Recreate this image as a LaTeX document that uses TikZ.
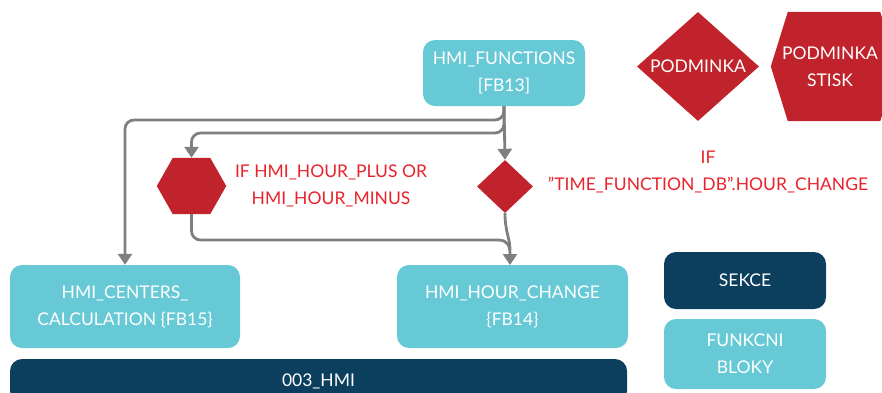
\documentclass[tikz,border=0pt]{standalone}
\usepackage{fontspec}
\setmainfont{Lato}
\usetikzlibrary{arrows.meta,shapes.geometric}
\definecolor{teal}{HTML}{66C9D5}
\definecolor{navy}{HTML}{0C3F5E}
\definecolor{dred}{HTML}{C0232C}
\definecolor{tred}{HTML}{E8232B}
\definecolor{lgray}{HTML}{7F7F7F}
\tikzset{
  fbbox/.style={fill=teal, rounded corners=12pt, text=white, align=center, inner sep=0pt, font=\fontsize{17.5}{27}\selectfont},
  secbox/.style={fill=navy, rounded corners=12pt, text=white, align=center, inner sep=0pt, font=\fontsize{17.5}{27}\selectfont},
  cond/.style={text=tred, align=center, font=\fontsize{17.5}{27}\selectfont},
  wtxt/.style={text=white, align=center, font=\fontsize{17.5}{27}\selectfont},
  conn/.style={draw=lgray, line width=2.8pt, rounded corners=9pt, -{Triangle[length=11pt,width=14pt]}},
  connl/.style={draw=lgray, line width=2.8pt, rounded corners=9pt},
}
\begin{document}
\begin{tikzpicture}[x=1pt,y=-1pt]
\useasboundingbox (0,0) rectangle (882,392);
% boxes
\node[fbbox, minimum width=162pt, minimum height=66pt] (fn) at (504,73) {HMI\_FUNCTIONS\\{[}FB13{]}};
\node[fbbox, minimum width=230pt, minimum height=83pt] (cc) at (125,306.5) {HMI\_CENTERS\_\\CALCULATION {\{}FB15{\}}};
\node[fbbox, minimum width=231pt, minimum height=83pt] (hc) at (512.5,306.5) {HMI\_HOUR\_CHANGE\\{\{}FB14{\}}};
\node[secbox, minimum width=162pt, minimum height=57pt] (sk) at (745,280.5) {SEKCE};
\node[fbbox, minimum width=162pt, minimum height=70pt] (fb) at (745,354) {FUNKCNI\\BLOKY};
\node[secbox, minimum width=617pt, minimum height=44pt] (hmi) at (318.5,381) {003\_HMI};
% legend shapes
\node[diamond, fill=dred, minimum width=122pt, minimum height=109pt, inner sep=0pt] (pd) at (698,66.5) {};
\node[wtxt] at (pd.center) {PODMINKA};
\node[minimum width=126pt, minimum height=109pt, inner sep=0pt] (ps) at (834,66.5) {};
\fill[dred] (ps.west) -- ([xshift=17pt]ps.north west) -- ([xshift=-17pt]ps.north east) -- (ps.east) -- ([xshift=-17pt]ps.south east) -- ([xshift=17pt]ps.south west) -- cycle;
\node[wtxt] at (830,66.5) {PODMINKA\\STISK};
% condition shapes
\node[minimum width=69pt, minimum height=56pt, inner sep=0pt] (hx) at (191.5,186) {};
\fill[dred] (hx.west) -- ([xshift=16pt]hx.north west) -- ([xshift=-16pt]hx.north east) -- (hx.east) -- ([xshift=-16pt]hx.south east) -- ([xshift=16pt]hx.south west) -- cycle;
\node[diamond, fill=dred, minimum width=56pt, minimum height=53pt, inner sep=0pt] (dm) at (505,186.5) {};
\node[cond] (t1) at (331,185.5) {IF HMI\_HOUR\_PLUS OR\\HMI\_HOUR\_MINUS};
\node[cond] (t2) at (708,172) {IF\\\symbol{34}TIME\_FUNCTION\_DB\symbol{34}.HOUR\_CHANGE};
% connectors
\coordinate (b1) at (504,120);
\coordinate (b2) at (504,133);
\draw[conn] (fn.south) -- (dm.north);
\draw[conn] (fn.south) -- (b1) -- (125,120) -- (cc.north);
\draw[conn] (fn.south) -- (b2) -- (191.5,133) -- (hx.north);
\draw[connl] (hx.south) -- (191.5,240) -- (498,240);
\draw[conn, rounded corners=0pt] (498,240) .. controls (508,240) and (510,246) .. (510,265);
\draw[connl] (dm.south) .. controls (505,232) and (510,238) .. (510,250);
\end{tikzpicture}
\end{document}
